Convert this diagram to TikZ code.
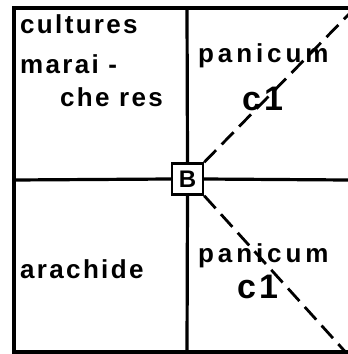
\documentclass[tikz,border=0pt]{standalone}
\usepackage{fontspec}
\setmainfont{Liberation Sans}
\newfontfamily\plotfont[LetterSpace=9]{Liberation Sans Bold}
\newfontfamily\widefont[LetterSpace=15]{Liberation Sans Bold}
\usetikzlibrary{positioning}

\begin{document}
\begin{tikzpicture}[x=1pt,y=-1pt,
  wall/.style={line width=3.2pt},
  track/.style={line width=2.8pt,dash pattern=on 17pt off 8pt},
  lbl/.style={inner sep=0pt,anchor=base west,font=\plotfont\fontsize{26}{28}\selectfont},
  crop/.style={lbl,font=\widefont\fontsize{26}{28}\selectfont},
  code/.style={inner sep=0pt,anchor=base west,font=\plotfont\fontsize{34}{36}\selectfont}]
\useasboundingbox (0,0) rectangle (348,354);
% plot labels
\node[draw,line width=2.4pt,fill=white,minimum size=31pt,inner sep=0pt,
      font=\plotfont\fontsize{24}{26}\selectfont] (b) at (187.5,179) {B};
\draw[wall] (348,8) -- (14,8) -- (14,352) -- (348,352);
\draw[wall] (187,8) -- (b.north);
\draw[wall] (b.south) -- (187,352);
\draw[wall] (14,180) -- (b.west);
\draw[wall] (b.east) -- (348,180);
\coordinate (ne) at (350,13);
\coordinate (se) at (350,357);
\draw[track] (b.north east) -- (ne);
\draw[track] (b.south east) -- (se);
% texts
\node[lbl] (cult) at (20,33) {cultures};
\node[lbl] (mara) at (20,73) {marai -};
\node[lbl] (cher) at (60,106) {che res};
\node[crop] (pan1) at (198,62) {panicum};
\node[code] (c1a) at (242,110) {c1};
\node[lbl] (arac) at (20,278) {arachide};
\node[crop] (pan2) at (198,262) {panicum};
\node[code] (c1b) at (237,298) {c1};
\end{tikzpicture}
\end{document}
